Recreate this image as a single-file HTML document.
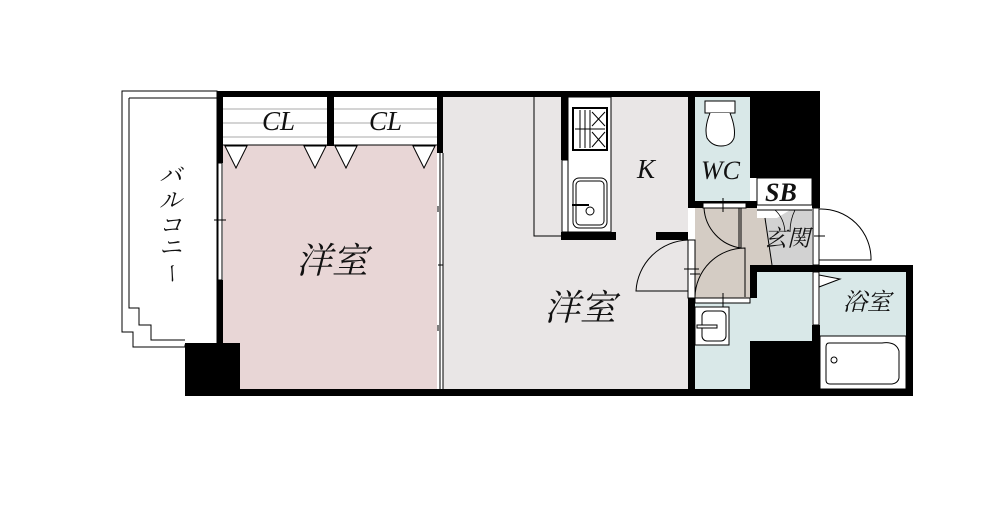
<!DOCTYPE html>
<html><head><meta charset="utf-8"><style>
html,body{margin:0;padding:0;background:#fff;width:988px;height:518px;overflow:hidden}
svg{display:block}
.t{font-family:"Liberation Serif","Noto Serif CJK SC",serif;font-style:italic;fill:#111}
</style></head><body>
<svg width="988" height="518" viewBox="0 0 988 518" xmlns="http://www.w3.org/2000/svg">
<!-- balcony -->
<path d="M122 91 H217 V345 H185 V347 H133 V332 H122 V314 Z" fill="#fff" stroke="#000" stroke-width="1"/>
<path d="M129 98 H217 M129 98 V308 H139 V325 H151 V340 H185" fill="none" stroke="#000" stroke-width="1"/>
<!-- rooms -->
<rect x="223" y="145" width="214" height="244" fill="#e8d6d6"/>
<rect x="443" y="97" width="245" height="292" fill="#e9e6e6"/>
<rect x="695" y="97" width="55" height="106" fill="#d9e8e8"/>
<rect x="695" y="272" width="117" height="117" fill="#d9e8e8"/>
<rect x="695" y="208" width="55" height="90" fill="#d4ccc4"/>
<polygon points="741,208 812,208 812,265 750,265 750,298 745,298 745,265 741,265" fill="#d4ccc4"/>
<polygon points="757,210 812,210 812,265 772,265 765,218" fill="#d2d2d2"/>
<polygon points="757,205 812,205 812,210 790,210 777,218 757,218" fill="#fff"/>
<rect x="820" y="272" width="86" height="117" fill="#d9e8e8"/>
<!-- CL -->
<rect x="223" y="97" width="214" height="48" fill="#fff"/>
<g stroke="#aaa" stroke-width="1"><line x1="223" y1="109" x2="437" y2="109"/><line x1="223" y1="123" x2="437" y2="123"/><line x1="223" y1="137" x2="437" y2="137"/></g>
<line x1="223" y1="145" x2="437" y2="145" stroke="#000"/>
<g fill="#fff" stroke="#000" stroke-width="1">
<polygon points="225,146 247,146 236,168"/><polygon points="304,146 326,146 315,168"/>
<polygon points="335,146 357,146 346,168"/><polygon points="413,146 435,146 424,168"/>
</g>
<!-- black walls -->
<g fill="#000">
<rect x="217" y="91" width="603" height="6"/>
<rect x="217" y="91" width="6" height="72"/>
<rect x="217" y="280" width="6" height="65"/>
<rect x="185" y="343" width="55" height="53"/>
<rect x="185" y="389" width="728" height="7"/>
<rect x="327" y="97" width="7" height="49"/>
<rect x="437" y="91" width="6" height="62"/>
<rect x="688" y="97" width="7" height="104"/>
<rect x="688" y="298" width="7" height="91"/>
<rect x="750" y="97" width="70" height="81"/>
<rect x="812" y="178" width="8" height="30"/>
<rect x="688" y="201" width="69" height="7"/>
<rect x="750" y="265" width="163" height="7"/>
<rect x="750" y="265" width="7" height="33"/>
<rect x="906" y="265" width="7" height="131"/>
<rect x="750" y="341" width="62" height="48"/>
<rect x="812" y="325" width="8" height="64"/>
<rect x="561" y="97" width="7" height="63"/>
<rect x="561" y="232" width="55" height="8"/>
<rect x="656" y="232" width="32" height="8"/>
</g>
<!-- window left -->
<rect x="218" y="163" width="4" height="117" fill="#fff" stroke="#000" stroke-width="1"/>
<line x1="214" y1="220" x2="226" y2="220" stroke="#000"/>
<!-- sliding door between rooms -->
<line x1="440" y1="153" x2="440" y2="389" stroke="#000"/>
<line x1="443" y1="153" x2="443" y2="389" stroke="#000"/>
<line x1="438" y1="206" x2="438" y2="212" stroke="#000"/><line x1="438" y1="265" x2="443" y2="265" stroke="#000"/><line x1="438" y1="325" x2="438" y2="331" stroke="#000"/>
<!-- kitchen -->
<path d="M534 97 V236 H561" fill="none" stroke="#000"/>
<rect x="568" y="97" width="43" height="135" fill="#fff" stroke="#000"/>
<rect x="562" y="160" width="6" height="72" fill="#fff" stroke="#000"/>
<rect x="573" y="108" width="34" height="42" fill="#fff" stroke="#000" stroke-width="2"/>
<g stroke="#000" stroke-width="1"><line x1="580" y1="110" x2="580" y2="148"/><line x1="585" y1="110" x2="585" y2="148"/><line x1="590" y1="110" x2="590" y2="148"/><line x1="575" y1="129" x2="605" y2="129"/><line x1="592" y1="112" x2="605" y2="126"/><line x1="605" y1="112" x2="592" y2="126"/><line x1="592" y1="132" x2="605" y2="147"/><line x1="605" y1="132" x2="592" y2="147"/></g>
<rect x="573" y="178" width="34" height="50" rx="6" fill="#fff" stroke="#000"/>
<rect x="576" y="181" width="28" height="44" rx="4" fill="none" stroke="#000"/>
<line x1="572" y1="205" x2="589" y2="205" stroke="#000" stroke-width="2"/>
<circle cx="590" cy="211" r="4" fill="none" stroke="#000"/>
<!-- LDK door -->
<rect x="688" y="240" width="7" height="58" fill="#fff" stroke="#000"/>
<path d="M688 240 A54 54 0 0 0 636 291 H688" fill="none" stroke="#000"/>
<line x1="684" y1="269" x2="699" y2="269" stroke="#000"/>
<!-- WC -->
<rect x="705" y="101" width="30" height="12" fill="#fff" stroke="#000"/>
<path d="M710 113 Q704 128 707 138 Q712 146 721 146 Q731 146 734 138 Q736 128 730 113" fill="#fff" stroke="#000"/>
<rect x="703" y="203" width="43" height="5" fill="#fff" stroke="#000"/>
<line x1="723" y1="198" x2="723" y2="212" stroke="#000"/>
<path d="M704 208 A43 43 0 0 0 741 248 V208" fill="none" stroke="#000"/>
<path d="M695 297 A50 50 0 0 1 745 248 V297" fill="none" stroke="#000"/>
<line x1="739" y1="208" x2="739" y2="248" stroke="#000"/>
<rect x="695" y="298" width="55" height="5" fill="#fff" stroke="#000"/>
<line x1="723" y1="293" x2="723" y2="308" stroke="#000"/>
<line x1="690" y1="274" x2="700" y2="274" stroke="#000"/>
<!-- genkan -->
<line x1="765" y1="218" x2="772" y2="265" stroke="#000"/>
<line x1="757" y1="210" x2="812" y2="210" stroke="#000"/>
<path d="M775 210 Q784 218 785 232 M795 210 Q790 220 790 232" fill="none" stroke="#000" stroke-width="0.8"/>
<rect x="757" y="178" width="55" height="27" fill="#fff" stroke="#000"/>
<!-- entrance door -->
<rect x="813" y="208" width="6" height="57" fill="#fff" stroke="#000"/>
<path d="M819 209 A50 50 0 0 1 871 260 H819" fill="none" stroke="#000"/>
<line x1="814" y1="236" x2="825" y2="236" stroke="#000"/>
<!-- bath door -->
<rect x="813" y="272" width="6" height="53" fill="#fff" stroke="#000"/>
<polygon points="819,275 840,279 819,287" fill="#fff" stroke="#000"/>
<!-- wash basin -->
<rect x="695" y="307" width="34" height="38" fill="#fff" stroke="#000"/>
<rect x="702" y="311" width="24" height="30" rx="5" fill="none" stroke="#000"/>
<rect x="697" y="325" width="20" height="3" fill="#fff" stroke="#000"/>
<!-- bathtub -->
<rect x="820" y="336" width="86" height="53" fill="#fff" stroke="#000"/>
<path d="M829 343 H882 Q896 341 899 351 V378 Q898 383 892 384 H830 Q826 384 826 380 V347 Q826 343 829 343 Z" fill="none" stroke="#000"/>
<circle cx="834" cy="360" r="3" fill="none" stroke="#000"/>
<!-- labels -->
<text class="t" x="262" y="130" font-size="27">CL</text>
<text class="t" x="369" y="130" font-size="27">CL</text>
<text class="t" x="296" y="273" font-size="36">洋室</text>
<text class="t" x="544" y="320" font-size="36">洋室</text>
<text class="t" x="637" y="178" font-size="27">K</text>
<text class="t" x="701" y="179" font-size="26">WC</text>
<text class="t" x="765" y="201" font-size="26" font-weight="bold">SB</text>
<text class="t" x="764" y="246" font-size="23">玄関</text>
<text class="t" x="843" y="310" font-size="24">浴室</text>
<g class="t" font-size="23" font-style="normal"><text x="159" y="183">バ</text><text x="159" y="208">ル</text><text x="159" y="233">コ</text><text x="159" y="255">ニ</text><text x="162" y="276" font-size="21" transform="rotate(90 171 270)">ー</text></g>
</svg>
</body></html>
